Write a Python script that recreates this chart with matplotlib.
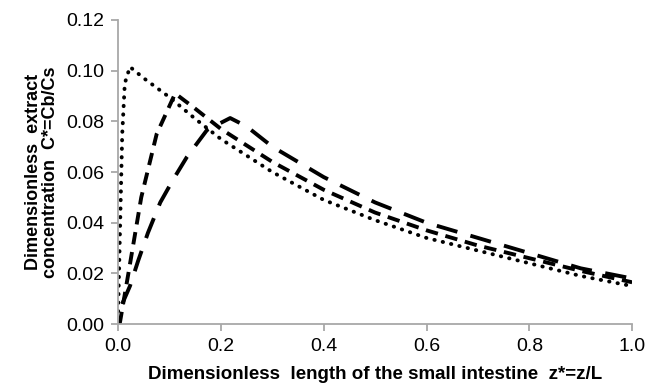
import matplotlib
matplotlib.use('Agg')
import matplotlib.pyplot as plt

# dotted series
dot_x = [0.0, 0.004, 0.008, 0.013, 0.023, 0.05, 0.1, 0.15, 0.2, 0.3, 0.4, 0.5, 0.6, 0.7, 0.8, 0.9, 1.0]
dot_y = [0.005, 0.04, 0.075, 0.095, 0.1015, 0.097, 0.0895, 0.081, 0.073, 0.060, 0.049, 0.041, 0.034, 0.029, 0.024, 0.019, 0.015]

# medium dashed series
med_x = [0.003, 0.02, 0.045, 0.075, 0.111, 0.15, 0.2, 0.3, 0.4, 0.5, 0.6, 0.7, 0.8, 0.9, 1.0]
med_y = [0.0, 0.02, 0.05, 0.075, 0.091, 0.085, 0.077, 0.064, 0.053, 0.044, 0.037, 0.031, 0.026, 0.021, 0.0165]

# long dashed series
long_x = [0.008, 0.023, 0.039, 0.058, 0.082, 0.107, 0.134, 0.173, 0.218, 0.25, 0.3, 0.4, 0.5, 0.6, 0.7, 0.8, 0.9, 1.0]
long_y = [0.008, 0.015, 0.025, 0.036, 0.048, 0.057, 0.066, 0.0766, 0.0813, 0.078, 0.070, 0.058, 0.048, 0.040, 0.034, 0.028, 0.022, 0.018]

x_ticks = [0.0, 0.2, 0.4, 0.6, 0.8, 1.0]
y_ticks = [0.0, 0.02, 0.04, 0.06, 0.08, 0.10, 0.12]

plt.rcParams['font.family'] = ['Liberation Sans', 'DejaVu Sans']

fig = plt.figure(figsize=(6.49, 3.84), dpi=100)
ax = fig.add_axes([0.182, 0.156, 0.792, 0.792])

lw = 2.8
ax.plot(dot_x, dot_y, color='black', lw=lw, linestyle=(0, (0.1, 2.1)), dash_capstyle='round')
ax.plot(med_x, med_y, color='black', lw=lw, linestyle=(0, (3.2, 2.0)))
ax.plot(long_x, long_y, color='black', lw=lw, linestyle=(0, (5.5, 3.5)))

ax.set_xlim(0, 1.0)
ax.set_ylim(0, 0.12)
ax.set_xticks(x_ticks)
ax.set_xticklabels(['%.1f' % v for v in x_ticks])
ax.set_yticks(y_ticks)
ax.set_yticklabels(['%.2f' % v for v in y_ticks])

for s in ['top', 'right']:
    ax.spines[s].set_visible(False)
for s in ['left', 'bottom']:
    ax.spines[s].set_color('#a8a8a8')
    ax.spines[s].set_linewidth(1.3)
ax.tick_params(direction='out', color='#a8a8a8', width=1.3, length=5, labelsize=14, pad=5)

ax.set_xlabel('Dimensionless  length of the small intestine  z*=z/L', fontsize=13.5,
              fontweight='bold', labelpad=8)
ax.set_ylabel('Dimensionless  extract\nconcentration  C*=Cb/Cs', fontsize=13,
              fontweight='bold', labelpad=5, linespacing=1.05)

fig.savefig('out.png', dpi=100)
